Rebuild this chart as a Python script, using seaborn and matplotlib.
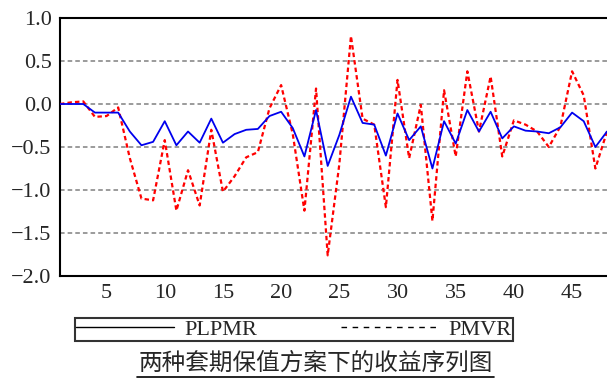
import numpy as np
import pandas as pd
import matplotlib
matplotlib.use("Agg")
import matplotlib.pyplot as plt
from matplotlib.lines import Line2D
from matplotlib.ticker import MultipleLocator, FixedLocator, FuncFormatter
import seaborn as sns

# ---- data ----
periods = list(range(1, 49))
plpmr = [0.00, 0.00, 0.00, -0.10, -0.10, -0.10, -0.32, -0.48, -0.44, -0.20,
         -0.48, -0.32, -0.45, -0.17, -0.45, -0.35, -0.30, -0.29, -0.14, -0.09,
         -0.28, -0.61, -0.07, -0.72, -0.36, 0.085, -0.22, -0.24, -0.60, -0.11,
         -0.42, -0.26, -0.75, -0.20, -0.46, -0.07, -0.32, -0.09, -0.40, -0.26,
         -0.31, -0.32, -0.34, -0.27, -0.10, -0.20, -0.50, -0.32]
pmvr = [0.00, 0.02, 0.03, -0.15, -0.14, -0.04, -0.63, -1.10, -1.12, -0.42,
        -1.24, -0.77, -1.18, -0.30, -1.02, -0.84, -0.62, -0.56, -0.05, 0.22,
        -0.35, -1.24, 0.18, -1.76, -0.70, 0.79, -0.17, -0.24, -1.20, 0.28,
        -0.63, -0.01, -1.36, 0.16, -0.61, 0.38, -0.32, 0.32, -0.61, -0.19,
        -0.24, -0.32, -0.50, -0.26, 0.38, 0.10, -0.75, -0.32]
series_names = ["PLPMR", "PMVR"]
y_ticks = [1.0, 0.5, 0.0, -0.5, -1.0, -1.5, -2.0]
x_major = [5, 10, 15, 20, 25, 30, 35, 40, 45]
title_text = "两种套期保值方案下的收益序列图"

sns.set_style("white")
plt.rcParams["font.family"] = ["Liberation Serif", "DejaVu Serif"]

W, H = 607, 382
fig = plt.figure(figsize=(W / 100, H / 100), dpi=100)
ax = fig.add_axes([60 / W, 1 - 276 / H, (607 - 60) / W, (276 - 18) / H])

df_a = pd.DataFrame({"x": periods, "y": plpmr})
df_b = pd.DataFrame({"x": periods, "y": pmvr})

# grid lines first (behind)
for v in [0.5, 0.0, -0.5, -1.0, -1.5]:
    ax.axhline(v, color="#808080", lw=1.1, ls=(0, (3, 2)), zorder=1)

sns.lineplot(data=df_b, x="x", y="y", ax=ax, color="#ff0000", lw=1.6,
             zorder=3)
ax.lines[-1].set_dashes((2, 1.4))
sns.lineplot(data=df_a, x="x", y="y", ax=ax, color="#0000ee", lw=1.3,
             zorder=4)

ax.set_xlim(1, 48)
ax.set_ylim(-2.0, 1.0)
ax.set_xlabel("")
ax.set_ylabel("")

ax.xaxis.set_major_locator(FixedLocator(x_major))
ax.xaxis.set_minor_locator(MultipleLocator(1))
ax.yaxis.set_major_locator(FixedLocator(y_ticks))


def yfmt(v, pos):
    s = f"{v:.1f}"
    if s == "-0.0":
        s = "0.0"
    return s.replace("-", "\u2212")


ax.yaxis.set_major_formatter(FuncFormatter(yfmt))
ax.tick_params(axis="x", which="major", direction="in", length=5, width=1,
               labelsize=16, pad=6, color="black")
ax.tick_params(axis="x", which="minor", direction="in", length=3, width=1,
               color="black")
ax.tick_params(axis="y", which="major", direction="out", length=5, width=1,
               labelsize=16, pad=1, color="#808080")

for side in ["left", "bottom", "top"]:
    ax.spines[side].set_color("black")
    ax.spines[side].set_linewidth(1.5)
ax.spines["right"].set_visible(False)

# legend
handles = [Line2D([], [], color="black", lw=1.0, ls="-"),
           Line2D([], [], color="black", lw=1.0, ls=(0, (4, 4)))]
leg = fig.legend(handles, series_names, loc="lower left",
                 bbox_to_anchor=(75 / W, 1 - 341 / H, 438 / W, 25 / H),
                 mode="expand", ncol=2, frameon=True, fancybox=False,
                 edgecolor="black", fontsize=16, handlelength=4.4,
                 handletextpad=0.45, borderpad=0.05, borderaxespad=0,
                 columnspacing=1.0)
leg.get_frame().set_linewidth(1.5)

# title with underline
tx = (137 + 494) / 2 / W
fig.text(tx, 1 - 363 / H, title_text, ha="center", va="center",
         fontsize=17, fontweight="medium",
         family=["Noto Sans CJK SC", "DejaVu Sans"])
fig.add_artist(Line2D([137 / W, 494 / W], [1 - 377 / H, 1 - 377 / H],
                      color="black", lw=1.2, transform=fig.transFigure))

fig.savefig("out.png", dpi=100)
